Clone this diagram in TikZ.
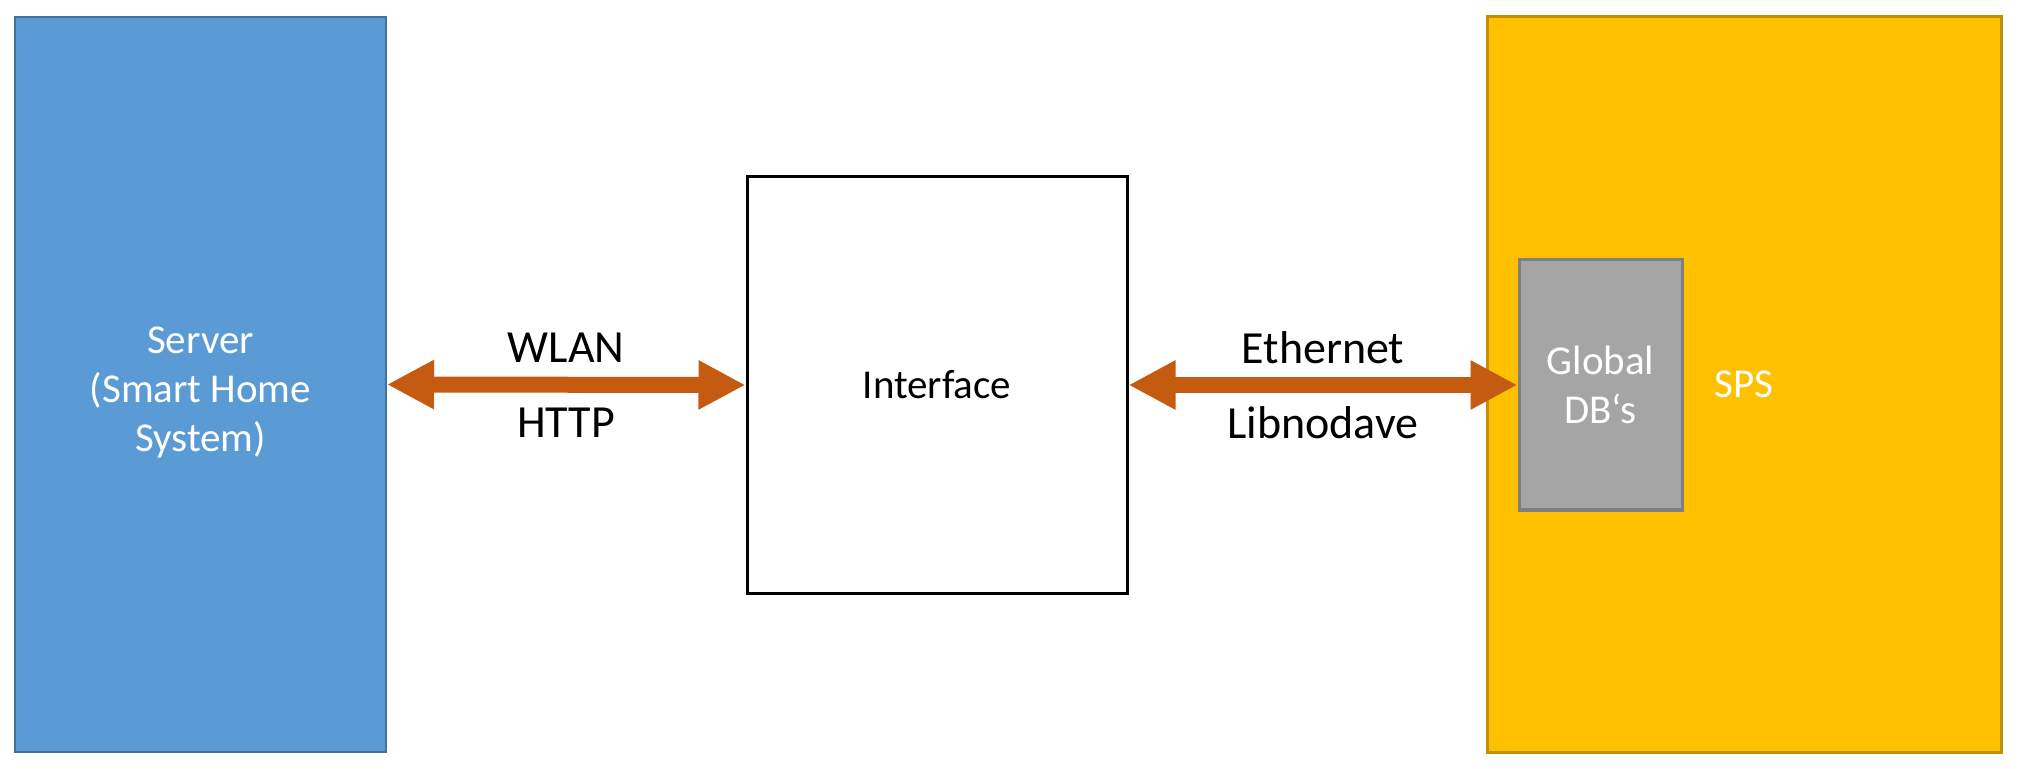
\documentclass[tikz,border=0pt]{standalone}
\usepackage{fontspec}
\setmainfont{Carlito}
\usetikzlibrary{arrows.meta, positioning}

\definecolor{serverblue}{HTML}{5B9BD5}
\definecolor{serverline}{HTML}{41719C}
\definecolor{spsyellow}{HTML}{FFC000}
\definecolor{spsline}{HTML}{BF9000}
\definecolor{dbgray}{HTML}{A5A5A5}
\definecolor{dbline}{HTML}{7F7F7F}
\definecolor{linkorange}{HTML}{C55A11}

\begin{document}
\begin{tikzpicture}[x=0.5pt, y=-0.5pt,
  block/.style={rectangle, inner sep=0pt, align=center, font=\fontsize{20.5}{24.5}\selectfont},
  link/.style={linkorange, line width=8pt,
    {Triangle[length=23.5pt, width=23pt]}-{Triangle[length=23.5pt, width=23pt]}},
  linklabel/.style={black, font=\fontsize{23}{27}\selectfont}]
  \useasboundingbox (0,0) rectangle (2022,769);

  % Draw boxes
  \node[block, fill=serverblue, draw=serverline, line width=1pt, text=white,
        minimum width=185.5pt, minimum height=367.5pt] (server) at (200.5,384.5)
        {\\[-3pt]Server\\(Smart Home\\System)};
  \node[block, fill=white, draw=black, line width=1.5pt,
        minimum width=190pt, minimum height=208pt] (interface) at (937,385) {Interface};
  \node[block, fill=spsyellow, draw=spsline, line width=1.5pt, text=white,
        minimum width=257pt, minimum height=367.5pt] (sps) at (1744,384.5) {SPS};
  \node[block, fill=dbgray, draw=dbline, line width=1.5pt, text=white,
        minimum width=81.5pt, minimum height=125pt] (db) at (1600.5,385) {Global\\DB‘s};

  % Draw links
  \draw[link] (server.east) -- (interface.west)
    node[linklabel, midway, yshift=18.5pt] {WLAN}
    node[linklabel, midway, yshift=-19pt] {HTTP};
  \draw[link] (interface.east) -- (db.west)
    node[linklabel, midway, yshift=18.5pt] {Ethernet}
    node[linklabel, midway, yshift=-19pt] {Libnodave};

\end{tikzpicture}
\end{document}
